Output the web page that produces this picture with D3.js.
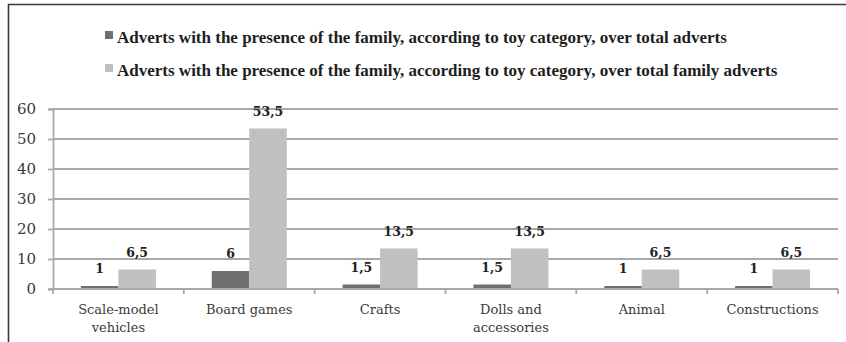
<!DOCTYPE html>
<html>
<head>
<meta charset="utf-8">
<script src="https://cdn.jsdelivr.net/npm/d3@7"></script>
<style>
  html, body { margin: 0; padding: 0; background: #fff; }
  svg { display: block; }
</style>
</head>
<body>
<svg id="chart" width="846" height="342"></svg>
<script>
// Toy categories shown along the x axis
const categories = ["Scale-model vehicles", "Board games", "Crafts", "Dolls and accessories", "Animal", "Constructions"];
// Share of adverts with family presence, over total adverts
const overTotalAdverts = [1, 6, 1.5, 1.5, 1, 1];
// Share of adverts with family presence, over total family adverts
const overFamilyAdverts = [6.5, 53.5, 13.5, 13.5, 6.5, 6.5];
const seriesNames = [
  "Adverts with the presence of the family, according to toy category, over total adverts",
  "Adverts with the presence of the family, according to toy category, over total family adverts"
];
const seriesColors = ["#707070", "#c0c0c0"];
const yTicks = [0, 10, 20, 30, 40, 50, 60];

const svg = d3.select("#chart");
const margin = { left: 53, right: 8, top: 109, bottom: 53 };
const W = 846, H = 342;

const x0 = d3.scaleBand().domain(categories).range([margin.left, W - margin.right]).paddingInner(0).paddingOuter(0);
const x1 = d3.scaleBand().domain([0, 1]).range([0, x0.bandwidth()]).paddingInner(0).paddingOuter(0.744);
const y = d3.scaleLinear().domain([0, 60]).range([H - margin.bottom, margin.top]);

const fmt = v => String(v).replace(".", ",");

// frame
svg.append("path")
  .attr("d", `M8.5,342 V4.5 H846`)
  .attr("fill", "none").attr("stroke", "#3a3a3a").attr("stroke-width", 1.6);

// legend
const legend = svg.append("g");
seriesNames.forEach((name, i) => {
  const ly = 37 + i * 33;
  legend.append("rect").attr("x", 105).attr("y", ly - 6).attr("width", 8).attr("height", 8)
    .attr("fill", seriesColors[i]);
  legend.append("text").attr("x", 117).attr("y", ly + 6)
    .attr("font-family", "Liberation Serif").attr("font-weight", "bold").attr("font-size", 17)
    .attr("fill", "#1e1e1e").text(name);
});

// gridlines
svg.append("g").selectAll("line").data(yTicks.filter(t => t > 0)).join("line")
  .attr("x1", margin.left).attr("x2", W - margin.right)
  .attr("y1", d => y(d)).attr("y2", d => y(d))
  .attr("stroke", "#a9a9a9").attr("stroke-width", 1.8);

// y axis
const yAxis = svg.append("g").attr("transform", `translate(${margin.left},0)`)
  .call(d3.axisLeft(y).tickValues(yTicks).tickSize(5).tickPadding(12).tickFormat(d => d));
yAxis.select(".domain").attr("stroke", "#a9a9a9").attr("stroke-width", 1.8);
yAxis.selectAll(".tick line").attr("stroke", "#a9a9a9").attr("stroke-width", 1.8);
yAxis.selectAll(".tick text").attr("font-family", "DejaVu Serif").attr("font-size", 15)
  .attr("fill", "#3a3a3a");

// bars
const groups = svg.append("g").selectAll("g").data(categories).join("g")
  .attr("transform", d => `translate(${x0(d)},0)`);
groups.each(function(cat, ci) {
  const g = d3.select(this);
  [overTotalAdverts[ci], overFamilyAdverts[ci]].forEach((v, si) => {
    g.append("rect")
      .attr("x", x1(si)).attr("width", x1.bandwidth())
      .attr("y", y(v)).attr("height", y(0) - y(v))
      .attr("fill", seriesColors[si]);
    g.append("text")
      .attr("x", x1(si) + x1.bandwidth() / 2).attr("y", y(v) - 13)
      .attr("text-anchor", "middle")
      .attr("font-family", "DejaVu Serif").attr("font-weight", "bold").attr("font-size", 12.5)
      .attr("fill", "#222").text(fmt(v));
  });
});

// x axis
const xAxisG = svg.append("g").attr("transform", `translate(0,${y(0)})`);
xAxisG.append("line").attr("x1", margin.left - 4).attr("x2", W - margin.right)
  .attr("stroke", "#a9a9a9").attr("stroke-width", 1.8);
const boundaries = categories.map(c => x0(c)).concat([x0.range()[1]]);
xAxisG.selectAll("line.tk").data(boundaries).join("line").attr("class", "tk")
  .attr("x1", d => d).attr("x2", d => d).attr("y1", 0).attr("y2", 5)
  .attr("stroke", "#a9a9a9").attr("stroke-width", 1.8);

// category labels, wrapped to fit each band
const catLabels = svg.append("g").selectAll("text").data(categories).join("text")
  .attr("x", d => x0(d) + x0.bandwidth() / 2).attr("y", y(0) + 25)
  .attr("text-anchor", "middle")
  .attr("font-family", "DejaVu Serif").attr("font-size", 13).attr("fill", "#3a3a3a");
catLabels.each(function(d) {
  const t = d3.select(this);
  const words = d.split(" ");
  let lines = [], cur = [];
  words.forEach(w => {
    cur.push(w);
    t.text(cur.join(" "));
    if (this.getComputedTextLength() > 108 && cur.length > 1) {
      cur.pop();
      lines.push(cur.join(" "));
      cur = [w];
    }
  });
  lines.push(cur.join(" "));
  t.text(null);
  lines.forEach((ln, i) => {
    t.append("tspan").attr("x", x0(d) + x0.bandwidth() / 2).attr("dy", i === 0 ? 0 : 18).text(ln);
  });
});
</script>
</body>
</html>
